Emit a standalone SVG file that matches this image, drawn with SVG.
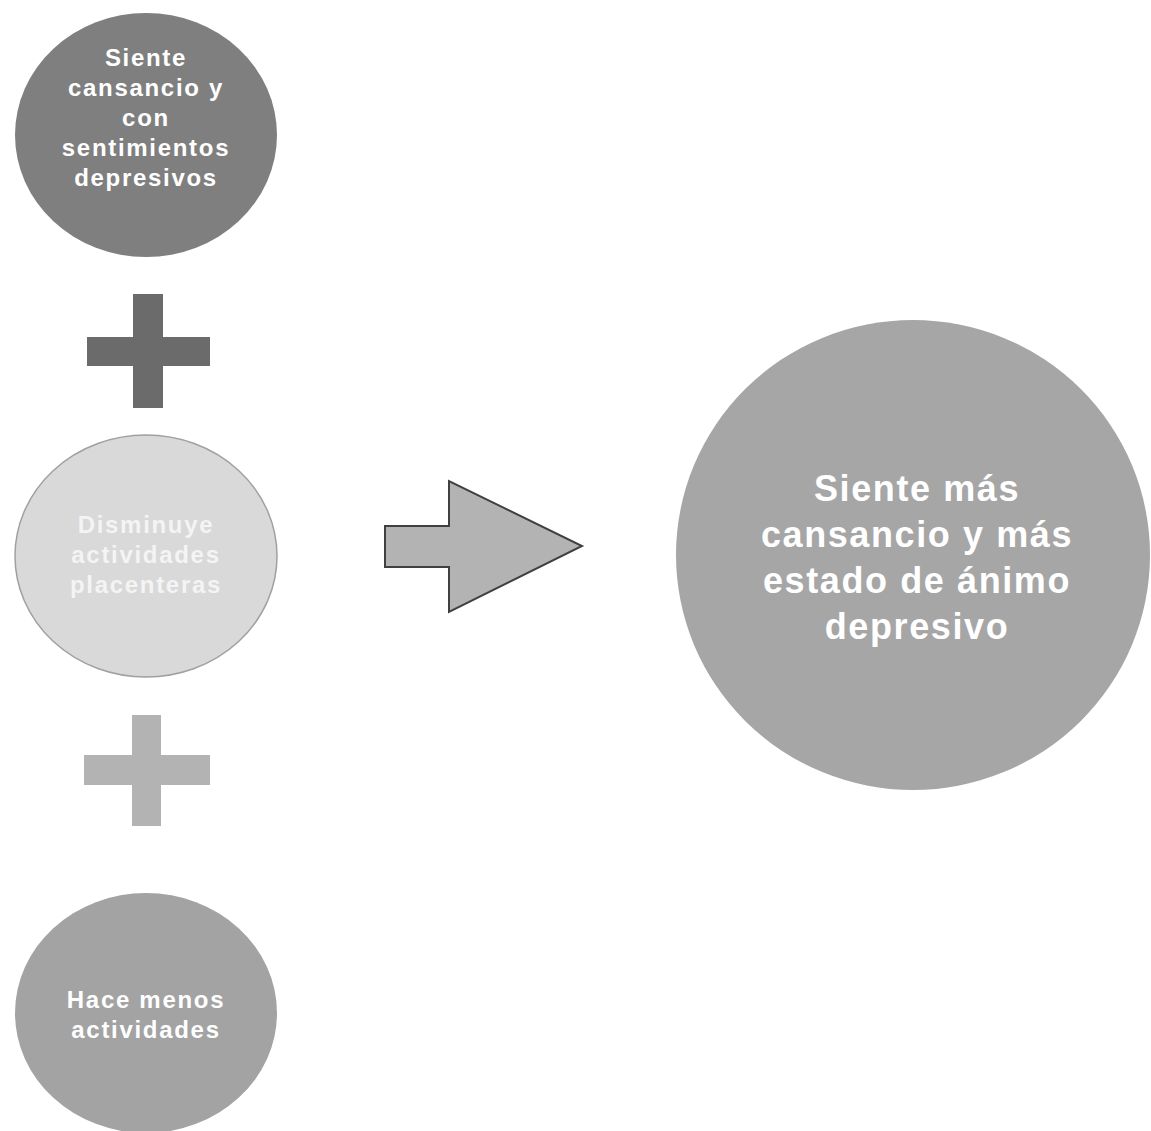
<svg xmlns="http://www.w3.org/2000/svg" width="1151" height="1131" viewBox="0 0 1151 1131">
<style>
.t{font-family:"Liberation Sans",Arial,sans-serif;font-weight:bold;fill:#ffffff;text-anchor:middle;font-size:24px;letter-spacing:1.7px}
.tl{fill:#f4f4f4}
.big{font-size:36px;letter-spacing:1.6px}
</style>
<rect width="1151" height="1131" fill="#ffffff"/>
<g id="n1">
<ellipse cx="146" cy="135" rx="131" ry="122" fill="#7f7f7f"/>
<text class="t" x="146" y="66">Siente</text>
<text class="t" x="146" y="96">cansancio y</text>
<text class="t" x="146" y="126">con</text>
<text class="t" x="146" y="156">sentimientos</text>
<text class="t" x="146" y="186">depresivos</text>
</g>
<g id="plus1">
<rect x="87" y="337" width="123" height="29" fill="#6b6b6b"/>
<rect x="133" y="294" width="30" height="114" fill="#6b6b6b"/>
</g>
<g id="n2">
<ellipse cx="146" cy="556" rx="131" ry="121" fill="#d9d9d9" stroke="#a0a0a0" stroke-width="1.5"/>
<text class="t tl" x="146" y="533">Disminuye</text>
<text class="t tl" x="146" y="563">actividades</text>
<text class="t tl" x="146" y="593">placenteras</text>
</g>
<g id="plus2">
<rect x="84" y="755" width="126" height="30" fill="#b3b3b3"/>
<rect x="132" y="715" width="29" height="111" fill="#b3b3b3"/>
</g>
<g id="n3">
<ellipse cx="146" cy="1013" rx="131" ry="120" fill="#a3a3a3"/>
<text class="t" x="146" y="1008">Hace menos</text>
<text class="t" x="146" y="1038">actividades</text>
</g>
<g id="connectors">
<polygon points="385,526 449,526 449,481 582,546 449,612 449,567 385,567" fill="#b3b3b3" stroke="#404040" stroke-width="2" stroke-linejoin="miter"/>
</g>
<g id="n4">
<ellipse cx="913" cy="555" rx="237" ry="235" fill="#a6a6a6"/>
<text class="t big" x="917" y="501">Siente más</text>
<text class="t big" x="917" y="547">cansancio y más</text>
<text class="t big" x="917" y="593">estado de ánimo</text>
<text class="t big" x="917" y="639">depresivo</text>
</g>
</svg>
